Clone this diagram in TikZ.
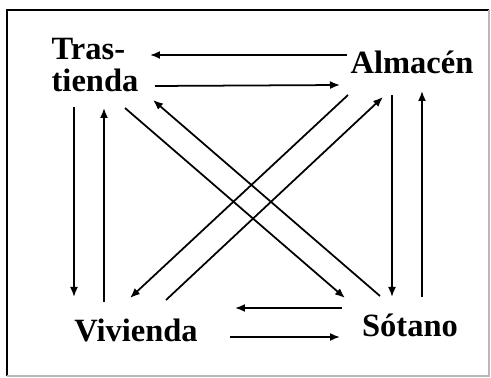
\documentclass[tikz,border=0pt]{standalone}
\usepackage{fontspec}
\setmainfont{Liberation Serif}
\usetikzlibrary{arrows.meta}
\tikzstyle{room} = [font=\bfseries\fontsize{18.5}{18}\selectfont, inner sep=0pt, align=left]
\tikzstyle{arrow} = [line width=1pt, -{Latex[length=0.2cm, width=0.16cm]}]
\tikzstyle{frame} = [line width=1.2pt]

\begin{document}
\begin{tikzpicture}[x=0.02cm, y=-0.02cm]
        \useasboundingbox (0,0) rectangle (491,378);
        \draw [frame] (7,376) -- (7,10) -- (489,10);
        \draw [frame, gray!55, line width=0.6pt] (489,10) -- (489,376) -- (7,376);

        \node (tras) [room] at (95,65) {Tras-\\tienda};
        \node (alm) [room] at (412,62) {Almacén};
        \node (viv) [room] at (136,330) {Vivienda};
        \node (sot) [room] at (410,325) {Sótano};

        % top pair
        \draw [arrow] ([shift={(-65,-7)}]alm.center) -- ([shift={(55,-10)}]tras.center);
        \draw [arrow] ([shift={(60,21)}]tras.center) -- ([shift={(-72,23)}]alm.center);
        % left pair
        \draw [arrow] ([shift={(-21,42)}]tras.center) -- ([shift={(-62,-33)}]viv.center);
        \draw [arrow] ([shift={(-32,-28)}]viv.center) -- ([shift={(9,43)}]tras.center);
        % diagonals
        \draw [arrow] ([shift={(30,43)}]tras.center) -- ([shift={(-65,-27)}]sot.center);
        \draw [arrow] ([shift={(-30,-29)}]sot.center) -- ([shift={(58,35)}]tras.center);
        \draw [arrow] ([shift={(-64,33)}]alm.center) -- ([shift={(-6,-32)}]viv.center);
        \draw [arrow] ([shift={(30,-30)}]viv.center) -- ([shift={(-29,35)}]alm.center);
        % right pair
        \draw [arrow] ([shift={(-20,33)}]alm.center) -- ([shift={(-18,-28)}]sot.center);
        \draw [arrow] ([shift={(12,-28)}]sot.center) -- ([shift={(10,29)}]alm.center);
        % bottom pair
        \draw [arrow] ([shift={(-68,-17)}]sot.center) -- ([shift={(99,-22)}]viv.center);
        \draw [arrow] ([shift={(94,7)}]viv.center) -- ([shift={(-70,12)}]sot.center);
    \end{tikzpicture}
\end{document}
